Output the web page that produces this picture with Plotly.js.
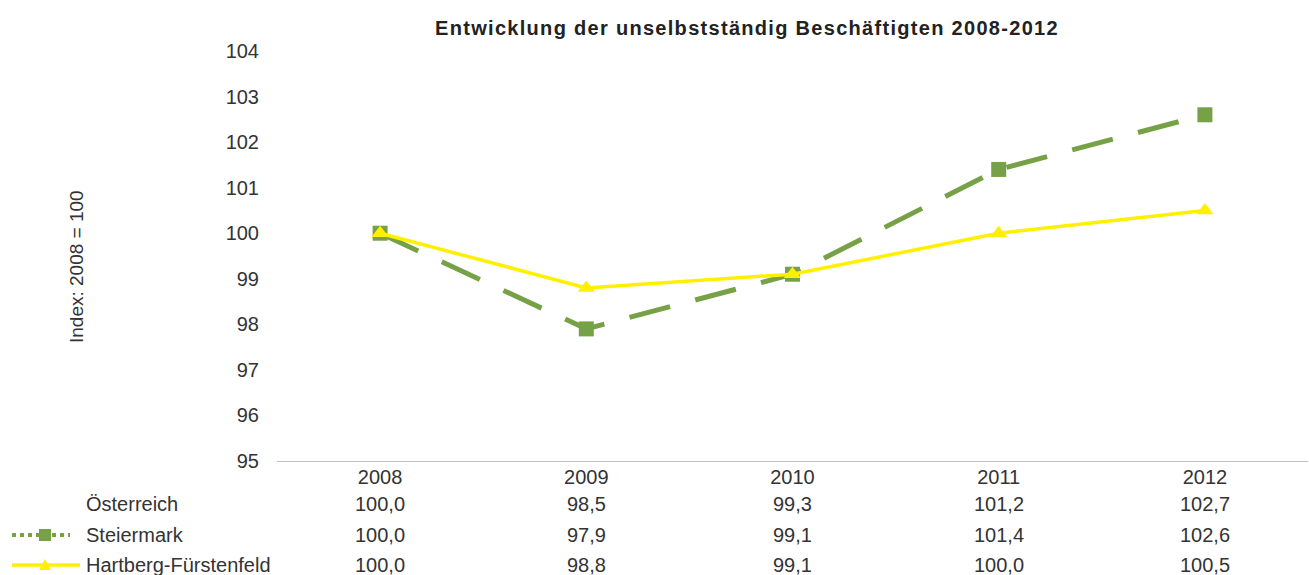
<!DOCTYPE html>
<html>
<head>
<meta charset="utf-8">
<script src="https://cdn.plot.ly/plotly-3.0.1.min.js"></script>
<style>html,body{margin:0;padding:0;background:#fff}#chart{width:1309px;height:575px}
.gtitle{letter-spacing:1.3px}</style>
</head>
<body>
<div id="chart"></div>
<script>
var years = ['2008', '2009', '2010', '2011', '2012'];
var seriesNames = ['Österreich', 'Steiermark', 'Hartberg-Fürstenfeld'];
var oesterreich = [100.0, 98.5, 99.3, 101.2, 102.7];
var steiermark = [100.0, 97.9, 99.1, 101.4, 102.6];
var hartberg = [100.0, 98.8, 99.1, 100.0, 100.5];
var yTicks = [95, 96, 97, 98, 99, 100, 101, 102, 103, 104];

var W = 1309, H = 575;
var L = 277, R = 1, T = 51, B = 114;
var pw = W - L - R, ph = H - T - B;
function px(x) { return (x - L) / pw; }
function py(y) { return (H - B - y) / ph; }

var green = '#77a146';
var yellow = '#fff000';
var font = 'Liberation Sans, Arial, sans-serif';
var txt = '#333';

var traces = [
  {x: years, y: oesterreich, name: seriesNames[0], type: 'scatter', mode: 'lines',
   line: {color: 'rgba(255,255,255,0)', width: 0}, hoverinfo: 'skip'},
  {x: years, y: steiermark, name: seriesNames[1], type: 'scatter', mode: 'lines+markers',
   line: {color: green, width: 5, dash: '42px,26px'},
   marker: {symbol: 'square', size: 15, color: green}},
  {x: years, y: hartberg, name: seriesNames[2], type: 'scatter', mode: 'lines+markers',
   line: {color: yellow, width: 3.5},
   marker: {symbol: 'triangle-up', size: 15, color: yellow}}
];

function fmt(v) { return v.toFixed(1).replace('.', ','); }

var rows = [oesterreich, steiermark, hartberg];
var rowY = [504, 535, 565];
var annotations = [];
for (var r = 0; r < rows.length; r++) {
  annotations.push({xref: 'paper', yref: 'paper', x: px(84), y: py(rowY[r]), xanchor: 'left', yanchor: 'middle',
    text: seriesNames[r], showarrow: false, font: {family: font, size: 20, color: txt}});
  for (var c = 0; c < years.length; c++) {
    annotations.push({xref: 'x', yref: 'paper', x: c, y: py(rowY[r]), xanchor: 'center', yanchor: 'middle',
      text: fmt(rows[r][c]), showarrow: false, font: {family: font, size: 20, color: txt}});
  }
}
annotations.push({xref: 'paper', yref: 'paper', x: px(76), y: py(267), xanchor: 'center', yanchor: 'middle',
  textangle: -90, text: 'Index: 2008 = 100', showarrow: false, font: {family: font, size: 19, color: txt}});

var shapes = [
  {type: 'line', xref: 'paper', yref: 'paper', x0: px(12), x1: px(70), y0: py(535), y1: py(535),
   line: {color: green, width: 4, dash: 'dot'}},
  {type: 'rect', xref: 'paper', yref: 'paper', x0: px(39), x1: px(51), y0: py(541), y1: py(529),
   fillcolor: green, line: {width: 0}},
  {type: 'line', xref: 'paper', yref: 'paper', x0: px(12), x1: px(80), y0: py(565), y1: py(565),
   line: {color: yellow, width: 3.5}},
  {type: 'path', xref: 'paper', yref: 'paper',
   path: 'M ' + px(39) + ' ' + py(570) + ' L ' + px(51) + ' ' + py(570) + ' L ' + px(45) + ' ' + py(559) + ' Z',
   fillcolor: yellow, line: {width: 0}}
];

var layout = {
  width: W, height: H,
  margin: {l: L, r: R, t: T, b: B},
  paper_bgcolor: '#fff', plot_bgcolor: '#fff',
  showlegend: false,
  title: {text: '<b>Entwicklung der unselbstständig Beschäftigten 2008-2012</b>', xref: 'container', x: 747 / W, xanchor: 'center',
    yref: 'container', y: 1 - 28 / H, yanchor: 'middle', font: {family: font, size: 20, color: '#222'}},
  xaxis: {type: 'category', range: [-0.5, 4.5], showgrid: false, zeroline: false,
    showline: true, linecolor: '#c0c0c0', linewidth: 1, ticks: '',
    tickfont: {family: font, size: 20, color: txt}, ticklabelstandoff: -2},
  yaxis: {range: [95, 104], tickvals: yTicks, showgrid: false, zeroline: false, showline: false,
    ticks: '', tickfont: {family: font, size: 20, color: txt}, ticklabelstandoff: 17},
  annotations: annotations,
  shapes: shapes
};

Plotly.newPlot('chart', traces, layout, {displayModeBar: false, staticPlot: true});
</script>
</body>
</html>
